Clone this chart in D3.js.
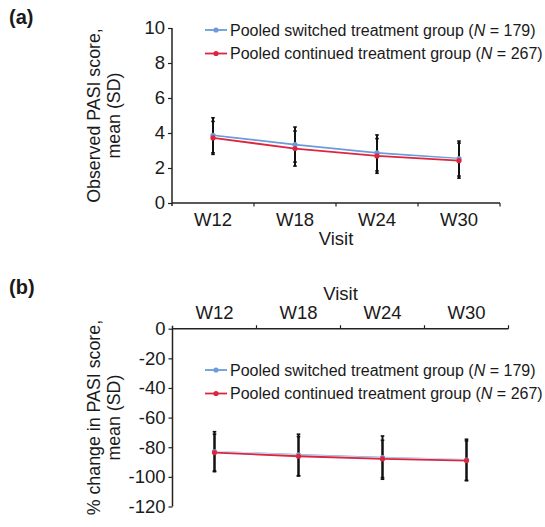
<!DOCTYPE html>
<html>
<head>
<meta charset="utf-8">
<script src="https://cdn.jsdelivr.net/npm/d3@7"></script>
<style>
  body { margin: 0; background: #fff; }
  text { font-family: "Liberation Sans", Arial, Helvetica, sans-serif; fill: #1a1a1a; }
</style>
</head>
<body>
<div id="plot"></div>
<script>
// visits
const visits = ["W12", "W18", "W24", "W30"];

// (a) observed PASI score, mean and SD
const pasiSwitchedMean = [3.87, 3.34, 2.86, 2.54];
const pasiSwitchedSD = [1.0, 1.0, 1.03, 1.0];
const pasiContinuedMean = [3.72, 3.11, 2.69, 2.42];
const pasiContinuedSD = [0.94, 1.0, 0.99, 1.0];

// (b) % change in PASI score, mean and SD
const pctSwitchedMean = [-83.0, -85.2, -87.0, -88.6];
const pctSwitchedSD = [13.5, 14.0, 14.6, 14.0];
const pctContinuedMean = [-83.6, -86.1, -87.9, -89.0];
const pctContinuedSD = [12.4, 13.3, 12.6, 13.3];

const ticksA = [0, 2, 4, 6, 8, 10];
const ticksB = [0, -20, -40, -60, -80, -100, -120];

const blue = "#6b9bd9";
const red = "#dc2640";

const svg = d3.select("#plot").append("svg")
  .attr("width", 545)
  .attr("height", 527);

function series(mean, sd, color) {
  return visits.map((v, i) => ({ visit: v, mean: mean[i], sd: sd[i], color: color }));
}

function drawPanel(cfg) {
  const g = svg.append("g");
  const x = d3.scaleBand().domain(visits).range(cfg.xRange);
  const y = d3.scaleLinear().domain(cfg.yDomain).range(cfg.yRange);

  // y axis (plain hyphen for negatives, as in the original)
  const yAxis = g.append("g")
    .attr("transform", "translate(" + cfg.xRange[0] + ",0)")
    .call(d3.axisLeft(y).tickValues(cfg.yTicks).tickFormat(d => String(d))
      .tickSize(4).tickSizeOuter(0).tickPadding(3));
  yAxis.select(".domain").remove();
  yAxis.selectAll("line").attr("stroke", "#222").attr("stroke-width", 1.2);
  yAxis.selectAll("text").style("font-size", "18.5px").attr("fill", "#1a1a1a")
    .attr("font-family", null);

  const yTop = Math.min(cfg.yRange[0], cfg.yRange[1]);
  const yBot = Math.max(cfg.yRange[0], cfg.yRange[1]);
  g.append("line")
    .attr("x1", cfg.xRange[0]).attr("x2", cfg.xRange[0])
    .attr("y1", yTop - (cfg.top ? 3 : 0)).attr("y2", yBot + (cfg.top ? 0 : 3))
    .attr("stroke", "#222").attr("stroke-width", 1.5);

  // x axis at y = 0
  const y0 = y(0);
  const dir = cfg.top ? -1 : 1;
  g.append("line")
    .attr("x1", cfg.xRange[0]).attr("x2", cfg.xRange[1])
    .attr("y1", y0).attr("y2", y0)
    .attr("stroke", "#222").attr("stroke-width", 1.5);
  g.selectAll(".xtick").data(visits).enter().append("line")
    .attr("x1", d => x(d) + x.bandwidth()).attr("x2", d => x(d) + x.bandwidth())
    .attr("y1", y0).attr("y2", y0 + dir * 3.5)
    .attr("stroke", "#222").attr("stroke-width", 1.2);
  g.selectAll(".xlab").data(visits).enter().append("text")
    .attr("x", d => x(d) + x.bandwidth() / 2)
    .attr("y", cfg.top ? y0 - 10 : y0 + 23)
    .attr("text-anchor", "middle")
    .style("font-size", "18.5px")
    .text(d => d);
  g.append("text")
    .attr("x", (cfg.xRange[0] + cfg.xRange[1]) / 2)
    .attr("y", cfg.top ? y0 - 29 : y0 + 42)
    .attr("text-anchor", "middle")
    .style("font-size", "18.5px")
    .text("Visit");

  // y axis title
  const yc = (yTop + yBot) / 2;
  const title = g.append("text")
    .attr("transform", "translate(0," + yc + ") rotate(-90)")
    .attr("text-anchor", "middle")
    .style("font-size", "17.8px");
  title.append("tspan").attr("x", 0).attr("y", 100).text(cfg.title1);
  title.append("tspan").attr("x", 0).attr("y", 120).text("mean (SD)");

  // panel letter
  g.append("text")
    .attr("x", 9).attr("y", cfg.letterY)
    .style("font-size", "20px").style("font-weight", "bold")
    .text(cfg.letter);

  const all = [cfg.switched, cfg.continued];
  const line = d3.line()
    .x(d => x(d.visit) + x.bandwidth() / 2)
    .y(d => y(d.mean));

  // error bars
  all.forEach(s => {
    const eb = g.append("g");
    eb.selectAll("line.bar").data(s).enter().append("line")
      .attr("x1", d => x(d.visit) + x.bandwidth() / 2)
      .attr("x2", d => x(d.visit) + x.bandwidth() / 2)
      .attr("y1", d => y(d.mean - d.sd)).attr("y2", d => y(d.mean + d.sd))
      .attr("stroke", "#111").attr("stroke-width", 2);
    ["lo", "hi"].forEach(k => {
      eb.selectAll("line." + k).data(s).enter().append("line")
        .attr("x1", d => x(d.visit) + x.bandwidth() / 2 - 1.8)
        .attr("x2", d => x(d.visit) + x.bandwidth() / 2 + 1.8)
        .attr("y1", d => y(k == "lo" ? d.mean - d.sd : d.mean + d.sd))
        .attr("y2", d => y(k == "lo" ? d.mean - d.sd : d.mean + d.sd))
        .attr("stroke", "#111").attr("stroke-width", 1.6);
    });
  });

  // lines and markers
  all.forEach(s => {
    g.append("path").datum(s)
      .attr("d", line).attr("fill", "none")
      .attr("stroke", "#fff").attr("stroke-opacity", 0.7).attr("stroke-width", 3.6);
    g.append("path").datum(s)
      .attr("d", line).attr("fill", "none")
      .attr("stroke", s[0].color).attr("stroke-width", 1.8);
    g.selectAll(null).data(s).enter().append("circle")
      .attr("cx", d => x(d.visit) + x.bandwidth() / 2)
      .attr("cy", d => y(d.mean))
      .attr("r", 2.6)
      .attr("fill", d => d.color);
  });

  // legend
  const legend = [
    { color: blue, label: "Pooled switched treatment group (", n: "179" },
    { color: red, label: "Pooled continued treatment group (", n: "267" }
  ];
  legend.forEach((l, i) => {
    const ly = cfg.legendY + i * 23.5;
    g.append("line")
      .attr("x1", 205).attr("x2", 227).attr("y1", ly).attr("y2", ly)
      .attr("stroke", l.color).attr("stroke-width", 1.8);
    g.append("circle").attr("cx", 216).attr("cy", ly).attr("r", 2.6).attr("fill", l.color);
    const t = g.append("text")
      .attr("x", 230).attr("y", ly + 5.5)
      .style("font-size", "16px");
    t.append("tspan").text(l.label);
    t.append("tspan").style("font-style", "italic").text("N");
    t.append("tspan").text(" = " + l.n + ")");
  });
}

drawPanel({
  letter: "(a)", letterY: 24,
  xRange: [172, 500], yDomain: [0, 10], yRange: [203, 28], yTicks: ticksA,
  top: false, legendY: 30,
  title1: "Observed PASI score,",
  switched: series(pasiSwitchedMean, pasiSwitchedSD, blue),
  continued: series(pasiContinuedMean, pasiContinuedSD, red)
});

drawPanel({
  letter: "(b)", letterY: 294,
  xRange: [172.5, 508.5], yDomain: [0, -120], yRange: [328.7, 506.5], yTicks: ticksB,
  top: true, legendY: 370,
  title1: "% change in PASI score,",
  switched: series(pctSwitchedMean, pctSwitchedSD, blue),
  continued: series(pctContinuedMean, pctContinuedSD, red)
});
</script>
</body>
</html>
